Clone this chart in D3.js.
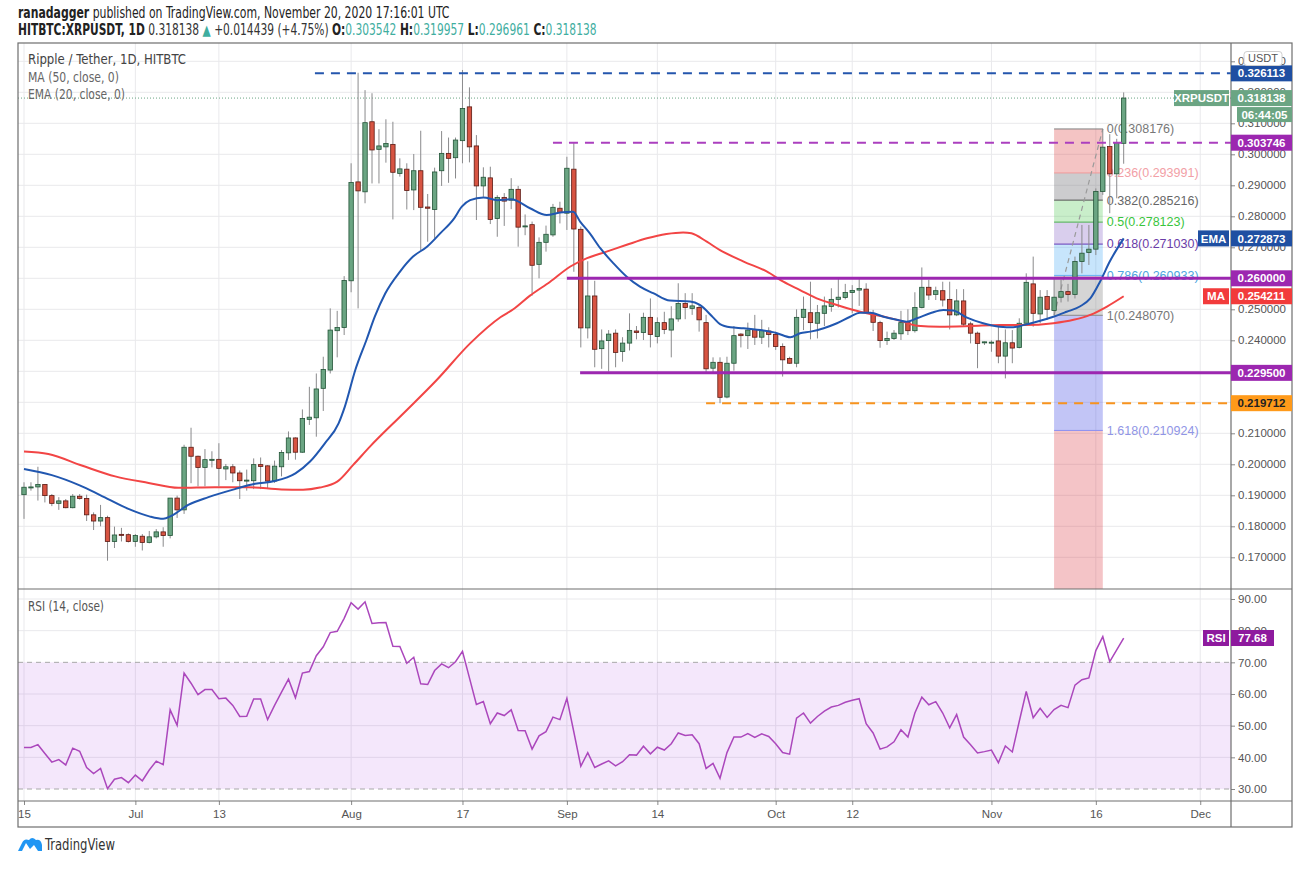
<!DOCTYPE html>
<html>
<head>
<meta charset="utf-8">
<script src="https://cdn.jsdelivr.net/npm/d3@7"></script>
<style>
	body { margin: 0; background: #fff; }
	svg { display: block; }
	text { font-family: "Liberation Sans", Arial, sans-serif; }
	.narrow { font-family: "Liberation Sans Narrow", "DejaVu Sans Condensed", "Liberation Sans", sans-serif; }
	.axis text { fill: #555; font-size: 11.5px; }
	.axis line { stroke: #888; }
</style>
</head>
<body>
<svg id="chart" width="1313" height="877"></svg>
<script>
// daily candles, HITBTC:XRPUSDT, first candle on startDate
var startDate = "2020-06-15";
var opens = [0.1902,0.1926,0.1927,0.1935,0.1899,0.1874,0.1882,0.1860,0.1897,0.1890,
	0.1837,0.1817,0.1828,0.1751,0.1774,0.1773,0.1751,0.1768,0.1748,0.1766,
	0.1782,0.1770,0.1891,0.1853,0.2055,0.2026,0.1990,0.2014,0.2016,0.1985,
	0.1992,0.1972,0.1947,0.1947,0.1999,0.1995,0.1946,0.1992,0.2037,0.2085,
	0.2039,0.2145,0.2150,0.2245,0.2304,0.2431,0.2441,0.2592,0.2911,0.2879,
	0.3105,0.3016,0.3024,0.3032,0.2938,0.2952,0.2885,0.2947,0.2830,0.2822,
	0.2947,0.3003,0.2989,0.3044,0.3153,0.3027,0.2898,0.2924,0.2793,0.2861,
	0.2852,0.2887,0.2766,0.2773,0.2645,0.2716,0.2740,0.2826,0.2810,0.2952,
	0.2758,0.2440,0.2543,0.2373,0.2399,0.2423,0.2364,0.2391,0.2430,0.2425,
	0.2474,0.2412,0.2457,0.2433,0.2469,0.2519,0.2503,0.2506,0.2457,0.2310,
	0.2329,0.2217,0.2326,0.2420,0.2415,0.2435,0.2410,0.2430,0.2419,0.2380,
	0.2341,0.2326,0.2474,0.2489,0.2455,0.2487,0.2509,0.2532,0.2538,0.2554,
	0.2562,0.2565,0.2485,0.2457,0.2399,0.2406,0.2421,0.2457,0.2431,0.2506,
	0.2571,0.2548,0.2560,0.2532,0.2482,0.2527,0.2453,0.2423,0.2392,0.2391,
	0.2398,0.2349,0.2392,0.2377,0.2455,0.2582,0.2485,0.2541,0.2496,0.2539,
	0.2557,0.2548,0.2654,0.2683,0.2694,0.2880,0.3025,0.2937,0.303542];
var highs = [0.1942,0.1942,0.1992,0.1936,0.1904,0.1894,0.1888,0.1904,0.1904,0.1902,
	0.1845,0.1869,0.1834,0.1799,0.1795,0.1777,0.1775,0.1775,0.1785,0.1791,
	0.1797,0.1891,0.1899,0.2063,0.2118,0.2028,0.2049,0.2042,0.2068,0.2001,
	0.2001,0.1980,0.1983,0.2019,0.2022,0.1997,0.2012,0.2046,0.2106,0.2087,
	0.2177,0.2250,0.2293,0.2347,0.2503,0.2495,0.2607,0.2971,0.3263,0.3207,
	0.3197,0.3081,0.3113,0.3105,0.2987,0.2971,0.3001,0.3076,0.2872,0.2957,
	0.3075,0.3054,0.3054,0.3272,0.3216,0.3062,0.2958,0.2960,0.2868,0.2875,
	0.2923,0.2898,0.2806,0.2783,0.2732,0.2770,0.2840,0.2847,0.2992,0.3037,
	0.2767,0.2655,0.2592,0.2435,0.2433,0.2435,0.2410,0.2487,0.2446,0.2489,
	0.2535,0.2474,0.2492,0.2510,0.2584,0.2552,0.2552,0.2514,0.2482,0.2345,
	0.2345,0.2347,0.2446,0.2423,0.2457,0.2482,0.2466,0.2442,0.2428,0.2390,
	0.2347,0.2500,0.2541,0.2589,0.2514,0.2541,0.2568,0.2600,0.2582,0.2578,
	0.2597,0.2584,0.2498,0.2463,0.2428,0.2433,0.2495,0.2500,0.2555,0.2635,
	0.2595,0.2573,0.2589,0.2589,0.2565,0.2565,0.2460,0.2428,0.2396,0.2400,
	0.2449,0.2435,0.2433,0.2471,0.2616,0.2670,0.2562,0.2562,0.2600,0.2595,
	0.2582,0.2670,0.2772,0.2772,0.2890,0.3082,0.3065,0.3050,0.319957];
var lows = [0.1824,0.1915,0.1883,0.1877,0.1865,0.1853,0.1858,0.1858,0.1886,0.1817,
	0.1788,0.1800,0.1689,0.1730,0.1751,0.1748,0.1734,0.1722,0.1745,0.1761,
	0.1734,0.1761,0.1827,0.1840,0.1939,0.1929,0.1929,0.1990,0.1929,0.1949,
	0.1942,0.1888,0.1915,0.1920,0.1920,0.1923,0.1940,0.1961,0.2014,0.2015,
	0.2037,0.2127,0.2089,0.2172,0.2293,0.2345,0.2417,0.2555,0.2503,0.2842,
	0.2906,0.2906,0.2973,0.2790,0.2928,0.2822,0.2820,0.2691,0.2718,0.2729,
	0.2898,0.2908,0.2922,0.2971,0.2974,0.2788,0.2863,0.2775,0.2734,0.2769,
	0.2823,0.2702,0.2739,0.2544,0.2600,0.2686,0.2734,0.2777,0.2756,0.2621,
	0.2377,0.2406,0.2313,0.2308,0.2299,0.2313,0.2331,0.2367,0.2403,0.2401,
	0.2377,0.2390,0.2420,0.2345,0.2460,0.2468,0.2482,0.2428,0.2294,0.2294,
	0.2197,0.2213,0.2302,0.2377,0.2372,0.2385,0.2388,0.2377,0.2369,0.2283,
	0.2324,0.2313,0.2433,0.2403,0.2406,0.2446,0.2492,0.2506,0.2532,0.2487,
	0.2511,0.2487,0.2430,0.2376,0.2385,0.2401,0.2401,0.2417,0.2425,0.2503,
	0.2530,0.2530,0.2509,0.2435,0.2478,0.2444,0.2390,0.2310,0.2385,0.2363,
	0.2326,0.2277,0.2326,0.2374,0.2453,0.2444,0.2455,0.2466,0.2481,0.2522,
	0.2525,0.2535,0.2616,0.2643,0.2675,0.2869,0.2810,0.2858,0.296961];
var closes = [0.1926,0.1927,0.1935,0.1899,0.1874,0.1882,0.1860,0.1897,0.1890,0.1837,
	0.1817,0.1828,0.1751,0.1772,0.1773,0.1751,0.1770,0.1748,0.1766,0.1782,
	0.1770,0.1891,0.1853,0.2055,0.2026,0.1990,0.2015,0.2016,0.1987,0.1992,
	0.1972,0.1947,0.1949,0.1999,0.1993,0.1946,0.1994,0.2038,0.2085,0.2039,
	0.2148,0.2152,0.2243,0.2306,0.2433,0.2441,0.2593,0.2909,0.2882,0.3102,
	0.3014,0.3027,0.3035,0.2942,0.2953,0.2883,0.2947,0.2829,0.2826,0.2943,
	0.3003,0.2987,0.3046,0.3148,0.3024,0.2898,0.2926,0.2790,0.2861,0.2849,
	0.2887,0.2765,0.2769,0.2642,0.2716,0.2742,0.2829,0.2812,0.2955,0.2759,
	0.2440,0.2543,0.2371,0.2398,0.2420,0.2361,0.2391,0.2432,0.2425,0.2474,
	0.2419,0.2457,0.2435,0.2469,0.2519,0.2506,0.2511,0.2466,0.2308,0.2329,
	0.2216,0.2326,0.2415,0.2415,0.2433,0.2410,0.2431,0.2419,0.2380,0.2337,
	0.2326,0.2474,0.2500,0.2457,0.2489,0.2511,0.2532,0.2539,0.2554,0.2561,
	0.2567,0.2490,0.2458,0.2399,0.2406,0.2423,0.2457,0.2431,0.2506,0.2571,
	0.2546,0.2560,0.2530,0.2482,0.2527,0.2452,0.2423,0.2390,0.2395,0.2394,
	0.2349,0.2392,0.2375,0.2455,0.2587,0.2487,0.2539,0.2500,0.2539,0.2557,
	0.2548,0.2654,0.2681,0.2694,0.2880,0.3023,0.2937,0.3037,0.318138];
var rsiValues = [43.1,43.1,44.0,41.2,38.5,39.3,37.6,42.9,41.9,36.8,
	34.9,36.5,30.1,33.1,33.6,32.0,34.4,32.6,36.0,38.8,
	37.7,55.0,50.1,66.6,63.4,59.8,61.4,61.4,58.5,58.7,
	56.4,52.9,53.0,58.4,58.4,51.9,56.4,60.6,64.7,58.8,
	66.6,67.1,72.1,74.9,79.4,79.8,83.9,88.8,86.8,89.1,
	82.3,82.5,82.6,75.1,75.0,69.7,71.6,63.2,63.0,67.4,
	69.5,68.3,70.2,73.5,65.1,56.7,57.6,50.6,54.0,53.2,
	55.0,48.5,48.4,42.6,46.8,48.1,52.7,51.9,58.6,48.0,
	37.2,41.5,36.8,37.9,38.9,37.3,38.6,40.8,40.7,43.5,
	41.1,43.2,42.3,44.3,47.7,46.9,47.1,44.3,36.5,38.1,
	33.4,41.5,46.4,46.4,47.5,46.3,47.4,46.6,44.3,41.5,
	41.0,52.4,54.0,50.8,52.9,54.6,55.9,56.4,57.4,58.0,
	58.5,50.6,47.7,42.6,43.3,44.9,48.7,46.4,54.0,59.0,
	56.6,57.6,54.0,49.3,53.5,46.4,44.0,41.4,41.8,42.3,
	38.3,43.6,41.7,51.4,60.8,52.5,55.5,52.6,55.1,56.4,
	55.7,62.8,64.5,65.1,73.7,78.1,70.2,73.9,77.68];
// indicator curves: [day index, value]
var emaPoints = [[0,0.1985],[4,0.1965],[8,0.1932],[11,0.1900],[15,0.1856],[18,0.1832],[20,0.1824],
	[21.2,0.1834],[23.6,0.1869],[26.5,0.1894],[30.3,0.1920],[33.2,0.1937],[36,0.1946],[39,0.1971],
	[41.1,0.2009],[43.2,0.2067],[45.2,0.2132],[46.1,0.2186],[47.6,0.2304],[49.2,0.2401],[50.4,0.2476],
	[51.9,0.2551],[54,0.2621],[55.9,0.2670],[57.9,0.2702],[59.8,0.2745],[61.7,0.2790],[62.9,0.2831],
	[64.1,0.2852],[66,0.2861],[68,0.2852],[70,0.2855],[72.7,0.2826],[75.1,0.2804],[77,0.2812],
	[78.9,0.2815],[79.9,0.2783],[81.3,0.2745],[82.8,0.2697],[84.7,0.2648],[86.6,0.2605],[88.5,0.2573],
	[90.4,0.2552],[92.8,0.2528],[95.7,0.2525],[97.1,0.2514],[99,0.2474],[100,0.2452],[101.5,0.2442],
	[103.4,0.2439],[105.8,0.2433],[108.2,0.2423],[110.1,0.2410],[111.5,0.2423],[113,0.2428],
	[114.9,0.2439],[116.8,0.2455],[118.7,0.2476],[120.1,0.2489],[121.6,0.2489],[123.5,0.2476],
	[125.4,0.2466],[126.8,0.2460],[128.3,0.2471],[130.4,0.2489],[132.1,0.2498],[133.5,0.2496],
	[135.4,0.2474],[137.8,0.2455],[140.2,0.2444],[142.1,0.2442],[143.6,0.2449],[145.5,0.2460],
	[147.9,0.2476],[149.8,0.2492],[151.7,0.2509],[153.2,0.2535],[154.6,0.2589],[156,0.2654],[158,0.272873]];
var maPoints = [[0,0.2041],[3.5,0.2033],[8.3,0.1996],[13.1,0.1961],[17.9,0.1940],[22.2,0.1924],
	[27.4,0.1926],[32.2,0.1926],[37,0.1919],[40.1,0.1918],[42.5,0.1925],[45,0.1944],[47.3,0.1998],
	[49.7,0.2057],[54.5,0.2164],[59.3,0.2272],[64.1,0.2390],[68.5,0.2475],[70.3,0.2500],[72.7,0.2544],
	[75.6,0.2589],[78.5,0.2638],[80.9,0.2665],[83.7,0.2686],[86.6,0.2708],[89.5,0.2729],[92.3,0.2743],
	[94.7,0.2748],[95.9,0.2745],[98.1,0.2718],[100,0.2691],[103.4,0.2654],[106.7,0.2622],[109.1,0.2589],
	[111.5,0.2562],[113.9,0.2535],[116.8,0.2514],[119.2,0.2498],[121.6,0.2485],[124,0.2474],
	[126.4,0.2460],[128.3,0.2447],[131.6,0.2444],[136,0.2446],[140.2,0.2449],[143.6,0.2449],
	[147.9,0.2455],[150.8,0.2466],[153.2,0.2482],[155.6,0.2509],[158,0.254211]];

var priceTicks = [0.17,0.18,0.19,0.20,0.21,0.22,0.23,0.24,0.25,0.26,0.27,0.28,0.29,0.30,0.31,0.32,0.33];
var rsiTicks = [30,40,50,60,70,80,90];
var dateTicks = ["2020-06-15","2020-07-01","2020-07-13","2020-08-01","2020-08-17","2020-09-01",
	"2020-09-14","2020-10-01","2020-10-12","2020-11-01","2020-11-16","2020-12-01"];
var dateTickLabels = ["15","Jul","13","Aug","17","Sep","14","Oct","12","Nov","16","Dec"];

// horizontal levels drawn by the author
var levelValues = [0.326113, 0.303746, 0.260000, 0.229500, 0.219712];
var levelStartDays = [41.8, 76, 78, 79.9, 98];
var levelColors = ["#2456ad", "#ab3fbf", "#9c27b0", "#9c27b0", "#f7931e"];
var levelDashed = [true, true, false, false, true];

// fib retracement
var fibLow = 0.248070, fibHigh = 0.308176;
var fibStartDay = 148, fibEndDay = 155;
var fibRatios = [0, 0.236, 0.382, 0.5, 0.618, 0.786, 1, 1.618, 2.618];
var fibNames = ["0", "0.236", "0.382", "0.5", "0.618", "0.786", "1", "1.618", "2.618"];

var LEFT = 18, RIGHT = 1231, OUTER = 1292, TOP = 43, MAIN_BOTTOM = 589, RSI_BOTTOM = 801, BOTTOM = 827;

var svg = d3.select("#chart");
var parseDay = d3.utcParse("%Y-%m-%d");
var start = parseDay(startDate);

function dayToDate(d) {
	return new Date(start.getTime() + d * 864e5);
}

var x = d3.scaleUtc()
	.domain([start, dayToDate(169)])
	.range([24, 24 + 169 * 6.96]);
var y = d3.scaleLinear().domain([0.17, 0.33]).range([557.3, 61.3]);
var yRsi = d3.scaleLinear().domain([30, 90]).range([789, 599]);
var fmt6 = d3.format(".6f");

var defs = svg.append("defs");
defs.append("clipPath").attr("id", "clip-main").append("rect")
	.attr("x", LEFT).attr("y", TOP).attr("width", RIGHT - LEFT).attr("height", MAIN_BOTTOM - TOP);
defs.append("clipPath").attr("id", "clip-rsi").append("rect")
	.attr("x", LEFT).attr("y", MAIN_BOTTOM).attr("width", RIGHT - LEFT).attr("height", RSI_BOTTOM - MAIN_BOTTOM);

// header: one text of several tspans, squeezed as a whole to the width in the picture
function headerLine(yPos, parts, width, size) {
	var g = svg.append("g");
	var t = g.append("text").attr("class", "narrow")
		.attr("x", 0).attr("y", 0)
		.attr("font-size", size);
	parts.forEach(function(p){
		t.append("tspan").text(p[0])
			.attr("fill", p[1])
			.attr("font-weight", p[2] ? "bold" : "normal");
	});
	var natural = t.node().getComputedTextLength();
	g.attr("transform", "translate(" + LEFT + "," + yPos + ") scale(" + (width / natural) + ",1)");
}
var teal = "#3fae9f";
headerLine(18, [["ranadagger", "#222", true], [" published on TradingView.com, November 20, 2020 17:16:01 UTC", "#222", false]], 432, 15);
headerLine(35, [["HITBTC:XRPUSDT, 1D", "#222", true], [" 0.318138 ", "#333", false], ["\u25B2", teal, false],
	[" +0.014439 (+4.75%) ", "#333", false], ["O:", "#222", true], ["0.303542", teal, false],
	[" H:", "#222", true], ["0.319957", teal, false], [" L:", "#222", true], ["0.296961", teal, false],
	[" C:", "#222", true], ["0.318138", teal, false]], 579, 15);

// grid
var grid = svg.append("g").attr("stroke", "#e9e9ec").attr("stroke-width", 1);
grid.selectAll("line.h").data(priceTicks).enter().append("line")
	.attr("x1", LEFT).attr("x2", RIGHT)
	.attr("y1", function(d){ return y(d); }).attr("y2", function(d){ return y(d); });
grid.selectAll("line.r").data([40, 50, 60, 80, 90]).enter().append("line")
	.attr("x1", LEFT).attr("x2", RIGHT)
	.attr("y1", function(d){ return yRsi(d); }).attr("y2", function(d){ return yRsi(d); });
grid.selectAll("line.v").data(dateTicks).enter().append("line")
	.attr("x1", function(d){ return x(parseDay(d)); })
	.attr("x2", function(d){ return x(parseDay(d)); })
	.attr("y1", TOP).attr("y2", RSI_BOTTOM);

var main = svg.append("g").attr("clip-path", "url(#clip-main)");

// fib retracement zones
var fibColors = ["rgba(220,60,60,0.3)", "rgba(120,120,125,0.38)", "rgba(76,200,80,0.3)",
	"rgba(103,58,183,0.25)", "rgba(33,150,243,0.25)", "rgba(128,128,128,0.33)",
	"rgba(80,90,230,0.35)", "rgba(220,60,70,0.3)"];
var fibLineColors = ["#808080", "#f19a9a", "#555555", "#4caf50", "#673ab7", "#64b5f6", "#888888", "#8c8ff0", "#e06060"];
var fibTextColors = ["#777", "#f2a0a6", "#666", "#39c53c", "#6a3ca8", "#4ea6e0", "#777", "#9095e6", "#e06060"];
var fibX0 = x(dayToDate(fibStartDay)), fibX1 = x(dayToDate(fibEndDay));
function fibValue(r) { return fibHigh - r * (fibHigh - fibLow); }
var fib = main.append("g");
fib.selectAll("rect").data(fibRatios.slice(0, -1)).enter().append("rect")
	.attr("x", fibX0).attr("width", fibX1 - fibX0)
	.attr("y", function(d){ return y(fibValue(d)); })
	.attr("height", function(d, i){ return y(fibValue(fibRatios[i + 1])) - y(fibValue(d)); })
	.attr("fill", function(d, i){ return fibColors[i]; });
fib.selectAll("line").data(fibRatios.slice(0, -1)).enter().append("line")
	.attr("x1", fibX0).attr("x2", fibX1)
	.attr("y1", function(d){ return y(fibValue(d)); }).attr("y2", function(d){ return y(fibValue(d)); })
	.attr("stroke", function(d, i){ return fibLineColors[i]; }).attr("stroke-width", 1);
fib.selectAll("text").data(fibRatios.slice(0, -1)).enter().append("text")
	.attr("x", fibX1 + 4).attr("y", function(d){ return y(fibValue(d)); })
	.attr("dy", "0.35em").attr("font-size", 12.5)
	.attr("fill", function(d, i){ return fibTextColors[i]; })
	.text(function(d, i){ return fibNames[i] + "(" + fmt6(fibValue(d)) + ")"; });
fib.append("line")
	.attr("x1", fibX0).attr("y1", y(fibLow))
	.attr("x2", fibX1).attr("y2", y(fibHigh))
	.attr("stroke", "#9a9a9a").attr("stroke-width", 1.2).attr("stroke-dasharray", "5,4");

// current price dotted line
var lastClose = closes[closes.length - 1];
main.append("line")
	.attr("x1", LEFT).attr("x2", RIGHT)
	.attr("y1", y(lastClose)).attr("y2", y(lastClose))
	.attr("stroke", "#6ba583").attr("stroke-dasharray", "1,2");

// candles
var candles = main.append("g").selectAll("g").data(opens).enter().append("g");
candles.append("line")
	.attr("x1", function(d, i){ return x(dayToDate(i)); })
	.attr("x2", function(d, i){ return x(dayToDate(i)); })
	.attr("y1", function(d, i){ return y(highs[i]); })
	.attr("y2", function(d, i){ return y(lows[i]); })
	.attr("stroke", "#8a8a8c").attr("stroke-width", 1);
candles.append("rect")
	.attr("x", function(d, i){ return x(dayToDate(i)) - 2.2; })
	.attr("width", 4.4)
	.attr("y", function(d, i){ return y(Math.max(d, closes[i])); })
	.attr("height", function(d, i){ return Math.max(1, Math.abs(y(d) - y(closes[i]))); })
	.attr("fill", function(d, i){ return closes[i] >= d ? "#6ba583" : "#d75442"; })
	.attr("stroke", function(d, i){ return closes[i] >= d ? "#225437" : "#5b1a13"; })
	.attr("stroke-width", 0.8);

// moving averages
var curve = d3.line()
	.x(function(d){ return x(dayToDate(d[0])); })
	.y(function(d){ return y(d[1]); })
	.curve(d3.curveMonotoneX);
main.append("path").datum(maPoints).attr("d", curve)
	.attr("fill", "none").attr("stroke", "#f24545").attr("stroke-width", 2);
main.append("path").datum(emaPoints).attr("d", curve)
	.attr("fill", "none").attr("stroke", "#2157b0").attr("stroke-width", 2);

// author levels
main.selectAll("line.level").data(levelValues).enter().append("line")
	.attr("x1", function(d, i){ return x(dayToDate(levelStartDays[i])); })
	.attr("x2", RIGHT)
	.attr("y1", function(d){ return y(d); }).attr("y2", function(d){ return y(d); })
	.attr("stroke", function(d, i){ return levelColors[i]; })
	.attr("stroke-width", function(d, i){ return levelDashed[i] ? 2 : 3; })
	.attr("stroke-dasharray", function(d, i){ return levelDashed[i] ? "9,7" : null; });

// RSI pane
var rsiPane = svg.append("g").attr("clip-path", "url(#clip-rsi)");
rsiPane.append("rect")
	.attr("x", LEFT).attr("width", RIGHT - LEFT)
	.attr("y", yRsi(70)).attr("height", yRsi(30) - yRsi(70))
	.attr("fill", "rgba(156,39,220,0.11)");
rsiPane.selectAll("line.band").data([70, 30]).enter().append("line")
	.attr("x1", LEFT).attr("x2", RIGHT)
	.attr("y1", function(d){ return yRsi(d); }).attr("y2", function(d){ return yRsi(d); })
	.attr("stroke", "#a8a8a8").attr("stroke-dasharray", "5,4");
rsiPane.append("path").datum(rsiValues)
	.attr("d", d3.line()
		.x(function(d, i){ return x(dayToDate(i)); })
		.y(function(d){ return yRsi(d); }))
	.attr("fill", "none").attr("stroke", "#ab47bc").attr("stroke-width", 1.5);

// axes
var yAxis = d3.axisRight(y).tickValues(priceTicks).tickFormat(fmt6).tickSize(4).tickSizeOuter(0);
svg.append("g").attr("class", "axis").attr("transform", "translate(" + RIGHT + ",0)").call(yAxis)
	.call(function(g){ g.select(".domain").remove(); });
var rsiAxis = d3.axisRight(yRsi).tickValues(rsiTicks).tickFormat(d3.format(".2f")).tickSize(4).tickSizeOuter(0);
svg.append("g").attr("class", "axis").attr("transform", "translate(" + RIGHT + ",0)").call(rsiAxis)
	.call(function(g){ g.select(".domain").remove(); });
var xAxis = d3.axisBottom(x)
	.tickValues(dateTicks.map(function(d){ return parseDay(d); }))
	.tickFormat(function(d, i){ return dateTickLabels[i]; })
	.tickSize(4).tickSizeOuter(0);
svg.append("g").attr("class", "axis").attr("transform", "translate(0," + RSI_BOTTOM + ")").call(xAxis)
	.call(function(g){
		g.select(".domain").remove();
		g.selectAll("text").attr("font-size", 12).attr("dy", "0.9em");
	});

// frame
var frame = svg.append("g").attr("stroke", "#6e6e6e").attr("stroke-width", 1.2).attr("fill", "none");
frame.append("rect").attr("x", LEFT).attr("y", TOP).attr("width", OUTER - LEFT).attr("height", BOTTOM - TOP);
frame.append("line").attr("x1", LEFT).attr("x2", OUTER).attr("y1", MAIN_BOTTOM).attr("y2", MAIN_BOTTOM);
frame.append("line").attr("x1", LEFT).attr("x2", OUTER).attr("y1", RSI_BOTTOM).attr("y2", RSI_BOTTOM);
frame.append("line").attr("x1", RIGHT).attr("x2", RIGHT).attr("y1", TOP).attr("y2", BOTTOM);

// legends
function legend(yPos, str, color, width) {
	svg.append("text").attr("class", "narrow")
		.attr("x", 28).attr("y", yPos).attr("font-size", 14).attr("fill", color)
		.attr("textLength", width).attr("lengthAdjust", "spacingAndGlyphs")
		.text(str);
}
legend(64, "Ripple / Tether, 1D, HITBTC", "#444", 158);
legend(81.5, "MA (50, close, 0)", "#666", 91);
legend(99, "EMA (20, close, 0)", "#666", 97);
legend(611, "RSI (14, close)", "#555", 76);

// axis tags
function tag(yc, str, bg, fg, x0, x1, h) {
	h = h || 16;
	svg.append("rect").attr("x", x0).attr("y", yc - h / 2).attr("width", x1 - x0).attr("height", h)
		.attr("fill", bg);
	svg.append("text").attr("x", (x0 + x1) / 2).attr("y", yc).attr("dy", "0.36em")
		.attr("text-anchor", "middle").attr("font-size", 11.5).attr("font-weight", "bold")
		.attr("fill", fg).text(str);
}
var lastEma = emaPoints[emaPoints.length - 1][1];
var lastMa = maPoints[maPoints.length - 1][1];
var lastRsi = rsiValues[rsiValues.length - 1];
tag(y(levelValues[0]), fmt6(levelValues[0]), "#1f4fa2", "#fff", RIGHT, OUTER);
tag(y(lastClose), "XRPUSDT", "#6ba583", "#fff", 1174, RIGHT - 2);
tag(y(lastClose), fmt6(lastClose), "#6ba583", "#fff", RIGHT, OUTER);
tag(y(lastClose) + 16.5, "06:44:05", "#6ba583", "#fff", 1237, OUTER, 15);
tag(y(levelValues[1]), fmt6(levelValues[1]), "#9c27b0", "#fff", RIGHT, OUTER);
tag(y(lastEma), "EMA", "#1f4fa2", "#fff", 1198, RIGHT - 2);
tag(y(lastEma), fmt6(lastEma), "#1f4fa2", "#fff", RIGHT, OUTER);
tag(y(levelValues[2]), fmt6(levelValues[2]), "#9c27b0", "#fff", RIGHT, OUTER);
tag(y(lastMa), "MA", "#f23b3b", "#fff", 1203, RIGHT - 2);
tag(y(lastMa), fmt6(lastMa), "#f23b3b", "#fff", RIGHT, OUTER);
tag(y(levelValues[3]), fmt6(levelValues[3]), "#9c27b0", "#fff", RIGHT, OUTER);
tag(y(levelValues[4]), fmt6(levelValues[4]), "#ff9a1a", "#222", RIGHT, OUTER);
tag(yRsi(lastRsi), "RSI", "#8e1a9e", "#fff", 1203, RIGHT - 2);
tag(yRsi(lastRsi), d3.format(".2f")(lastRsi), "#8e1a9e", "#fff", RIGHT, 1274);

// currency box
svg.append("rect").attr("x", 1244).attr("y", 51.5).attr("width", 38).attr("height", 14).attr("rx", 3)
	.attr("fill", "#fff").attr("stroke", "#cfcfcf");
svg.append("text").attr("x", 1263).attr("y", 58.5).attr("dy", "0.36em").attr("text-anchor", "middle")
	.attr("font-size", 11).attr("fill", "#555").text("USDT");

// TradingView mark
var logo = svg.append("g").attr("transform", "translate(18,837)");
logo.append("path")
	.attr("d", "M0,14 L4,6 Q6,1 11,3 Q14,-1 18,3 Q23,2 24,8 L24,14 L20,14 L16,8 L12,12 L8,6 L4,14 Z")
	.attr("fill", "#2196f3");
svg.append("text").attr("class", "narrow").attr("x", 45).attr("y", 850)
	.attr("font-size", 15).attr("fill", "#333")
	.attr("textLength", 70).attr("lengthAdjust", "spacingAndGlyphs")
	.text("TradingView");
</script>
</body>
</html>
